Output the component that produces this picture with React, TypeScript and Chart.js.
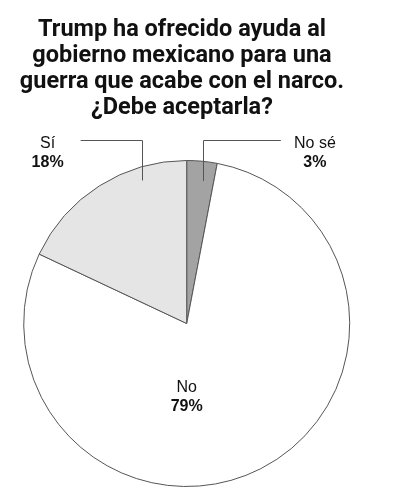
import React, { useEffect, useRef } from "react";
import { Chart, registerables } from "chart.js";

Chart.register(...registerables);

const titleLines = [
  "Trump ha ofrecido ayuda al",
  "gobierno mexicano para una",
  "guerra que acabe con el narco.",
  "¿Debe aceptarla?",
];
const categories = ["No sé", "No", "Sí"];
const values = [3, 79, 18];
const sliceColors = ["#a3a3a3", "#ffffff", "#e5e5e5"];

const LABEL_FONT = "'Liberation Sans', Arial, sans-serif";
const TITLE_FONT = "Roboto, 'Liberation Sans', sans-serif";

const annotatePlugin = {
  id: "annotate",
  afterDraw(chart: any) {
    const ctx = chart.ctx;
    const meta = chart.getDatasetMeta(0);
    ctx.save();
    // Title
    ctx.fillStyle = "#111";
    ctx.font = `700 23.5px ${TITLE_FONT}`;
    ctx.textAlign = "center";
    ctx.textBaseline = "alphabetic";
    titleLines.forEach((line, i) => {
      ctx.fillText(line, 182, 36.3 + i * 26);
    });

    const drawLabel = (x: number, y: number, name: string, pct: string) => {
      ctx.fillStyle = "#111";
      ctx.textAlign = "center";
      ctx.font = `400 16px ${LABEL_FONT}`;
      ctx.fillText(name, x, y);
      ctx.font = `700 16px ${LABEL_FONT}`;
      ctx.fillText(pct, x, y + 19);
    };

    meta.data.forEach((arc: any, i: number) => {
      const { x: cx, y: cy, startAngle, endAngle, outerRadius } = arc.getProps(
        ["x", "y", "startAngle", "endAngle", "outerRadius"],
        true
      );
      const name = categories[i];
      const pct = values[i] + "%";
      if (name === "No") {
        drawLabel(cx, cy + outerRadius * 0.42, name, pct);
        return;
      }
      const isLeft = name === "Sí";
      const frac = isLeft ? 0.73 : 0.6;
      const rf = isLeft ? 0.92 : 0.88;
      const a = startAngle + (endAngle - startAngle) * frac;
      const px = cx + Math.cos(a) * outerRadius * rf;
      const py = cy + Math.sin(a) * outerRadius * rf;
      const elbowY = cy - outerRadius - 20.5;
      const hx = isLeft ? px - 61 : px + 78;
      ctx.strokeStyle = "#555";
      ctx.lineWidth = 1;
      ctx.beginPath();
      ctx.moveTo(Math.round(px) + 0.5, py);
      ctx.lineTo(Math.round(px) + 0.5, Math.round(elbowY) + 0.5);
      ctx.lineTo(hx, Math.round(elbowY) + 0.5);
      ctx.stroke();
      const tx = isLeft ? hx - 33 : hx + 34;
      drawLabel(tx, elbowY + 8, name, pct);
    });
    ctx.restore();
  },
};

export default function App() {
  const ref = useRef<HTMLCanvasElement | null>(null);
  useEffect(() => {
    if (!ref.current) return;
    const chart = new Chart(ref.current, {
      type: "pie",
      data: {
        labels: categories,
        datasets: [
          {
            data: values,
            backgroundColor: sliceColors,
            borderColor: "#555",
            borderWidth: 1,
          },
        ],
      },
      options: {
        responsive: true,
        maintainAspectRatio: false,
        animation: false,
        radius: 163,
        layout: { padding: { left: 0, right: 25.6, top: 147, bottom: 0 } },
        plugins: {
          legend: { display: false },
          tooltip: { enabled: false },
          title: { display: false },
        },
      } as any,
      plugins: [annotatePlugin],
    });
    return () => chart.destroy();
  }, []);
  return (
    <div
      style={{
        position: "fixed",
        left: 0,
        top: 0,
        width: 399,
        height: 500,
        background: "#fff",
      }}
    >
      <canvas ref={ref} />
    </div>
  );
}
